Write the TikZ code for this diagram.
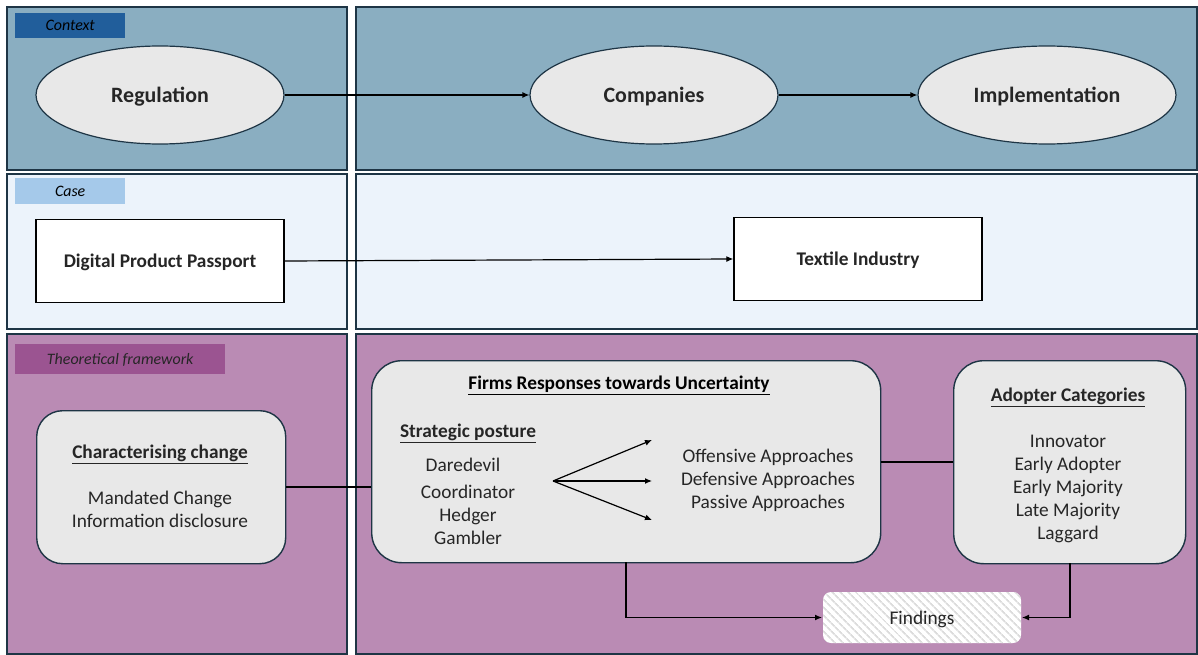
\documentclass[tikz,border=0pt]{standalone}
\usepackage{fontspec}
\setmainfont{Carlito}
\usetikzlibrary{arrows.meta,shapes.geometric,patterns.meta,positioning}
\definecolor{ctxfill}{HTML}{8AAEC1}
\definecolor{ctxtab}{HTML}{215E9B}
\definecolor{casefill}{HTML}{ECF3FB}
\definecolor{casetab}{HTML}{A5C9EA}
\definecolor{theofill}{HTML}{BA8BB4}
\definecolor{theotab}{HTML}{9B5491}
\definecolor{bord}{HTML}{1E3545}
\definecolor{nodefill}{HTML}{E8E8E8}
\definecolor{txt}{HTML}{262626}
\definecolor{hatch}{HTML}{DCDCDC}
\tikzset{
  panel/.style={draw=bord, line width=1.6bp, anchor=north west, inner sep=0},
  tab/.style={anchor=north west, inner sep=0},
  tabtext/.style={font=\itshape\fontsize{16}{18}\selectfont, text=black, inner sep=0, text depth=0pt},
  ell/.style={ellipse, draw=bord, line width=1.2bp, fill=nodefill, minimum width=248bp, minimum height=98bp, font=\bfseries\fontsize{22}{25}\selectfont, text=txt, text depth=0pt},
  wbox/.style={draw=black, line width=1.3bp, fill=white, minimum width=248bp, minimum height=83bp, font=\bfseries\fontsize{19.4}{22}\selectfont, text=txt, text depth=0pt},
  rbox/.style={draw=bord, line width=1.4bp, fill=nodefill, rounded corners=26bp, anchor=north west, inner sep=0},
  conn/.style={line width=1.2bp, black},
  arr/.style={conn, -{Latex[length=7bp,width=6bp]}},
  body/.style={font=\fontsize{19.4}{23}\selectfont, text=txt, align=center, inner sep=0, text depth=0pt},
  head/.style={font=\bfseries\fontsize{19.4}{22}\selectfont, text=txt, inner sep=0, text depth=0pt},
}
\begin{document}
\begin{tikzpicture}[x=1bp, y=-1bp]
\useasboundingbox (0,0) rectangle (1198,655);
% panels
\node[panel, fill=ctxfill, minimum width=340bp, minimum height=163bp] (p1l) at (6,6) {};
\node[panel, fill=ctxfill, minimum width=841bp, minimum height=163bp] (p1r) at (355,6) {};
\node[panel, fill=casefill, minimum width=340bp, minimum height=155bp] (p2l) at (6,173) {};
\node[panel, fill=casefill, minimum width=841bp, minimum height=155bp] (p2r) at (355,173) {};
\node[panel, fill=theofill, minimum width=340bp, minimum height=320bp] (p3l) at (6,333) {};
\node[panel, fill=theofill, minimum width=841bp, minimum height=320bp] (p3r) at (355,333) {};
% tabs
\node[tab, fill=ctxtab, minimum width=110bp, minimum height=25bp] (t1) at (15,13) {};
\node[tabtext] (t1l) at (t1.center) {Context};
\node[tab, fill=casetab, minimum width=110bp, minimum height=26bp] (t2) at (15,178) {};
\node[tabtext] (t2l) at (t2.center) {Case};
\node[tab, fill=theotab, minimum width=210bp, minimum height=30bp] (t3) at (15,344) {};
\node[tabtext, text=txt] (t3l) at (t3.center) {Theoretical framework};
% context
\node[ell] (reg) at (160,95) {Regulation};
\node[ell] (comp) at (654,95) {Companies};
\node[ell, minimum width=258bp] (impl) at (1047,95) {Implementation};
\draw[arr] (reg.east) -- (comp.west);
\draw[arr] (comp.east) -- (impl.west);
% case
\node[wbox] (dpp) at (160,261) {Digital Product Passport};
\node[wbox] (tex) at (858,259) {Textile Industry};
\draw[arr] (dpp.east) -- (tex.west);
% theoretical framework
\node[rbox, minimum width=249bp, minimum height=153bp] (cc) at (36,410) {};
\node[head] (cct) at (160,452) {\underline{Characterising change}};
\node[body] (ccb) at (160,509.5) {Mandated Change\\Information disclosure};

\node[rbox, rounded corners=30bp, minimum width=509bp, minimum height=202bp] (firms) at (371,360) {};
\node[head, text=black] (ft) at (619,383) {\underline{Firms Responses towards Uncertainty}};
\node[head] (sp) at (468,431) {\underline{Strategic posture}};
\node[body] (d1) at (463,465) {Daredevil};
\node[body] (d2) at (468,492) {Coordinator};
\node[body] (d3) at (468,515) {Hedger};
\node[body] (d4) at (468,538) {Gambler};
\coordinate (fork) at (553,481);
\coordinate (a1) at (652,440);
\coordinate (a2) at (652,481);
\coordinate (a3) at (652,520);
\draw[arr] (fork) -- (a1);
\draw[arr] (fork) -- (a2);
\draw[arr] (fork) -- (a3);
\node[body] (o1) at (768,456) {Offensive Approaches};
\node[body] (o2) at (768,479) {Defensive Approaches};
\node[body] (o3) at (768,502) {Passive Approaches};

\node[rbox, rounded corners=30bp, minimum width=232bp, minimum height=203bp] (adopt) at (953,360) {};
\node[head] (at) at (1068,395) {\underline{Adopter Categories}};
\node[body] (b1) at (1068,441) {Innovator};
\node[body] (b2) at (1068,464) {Early Adopter};
\node[body] (b3) at (1068,487) {Early Majority};
\node[body] (b4) at (1068,510) {Late Majority};
\node[body] (b5) at (1068,533) {Laggard};

\node[draw=none, fill=white, rounded corners=8bp, minimum width=198bp, minimum height=51bp] (findbg) at (922,617.5) {};
\node[rounded corners=8bp, pattern={Lines[angle=-45,distance=6bp,line width=2bp]}, pattern color=hatch, minimum width=198bp, minimum height=51bp, font=\fontsize{19.4}{22}\selectfont, text=txt, text depth=0pt] (find) at (922,617.5) {Findings};

\draw[conn] (cc.east |- 0,487) -- (firms.west |- 0,487);
\draw[conn] (firms.east |- 0,462) -- (adopt.west |- 0,462);
\draw[arr] (626,562) |- (find.west);
\draw[arr] (1070,563) |- (find.east);
\end{tikzpicture}
\end{document}
